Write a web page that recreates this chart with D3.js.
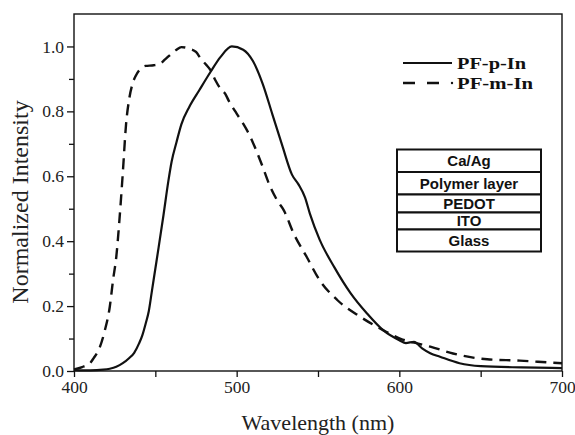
<!DOCTYPE html>
<html>
<head>
<meta charset="utf-8">
<script src="https://cdn.jsdelivr.net/npm/d3@7"></script>
<style>
  html, body { margin: 0; padding: 0; background: #fff; }
  svg { display: block; }
</style>
</head>
<body>
<svg id="chart" width="575" height="435"></svg>
<script>
// ---- data ----
const pWavelength = [400,410,418,422,426,430,434,437,440,442,444,446,448,450,452,455,458,460,463,466,471,477,484,490,497,504,510,516,522,528,534,538,542,545,551,560,570,580,590,600,604,609,614,619,625,637,650,675,700];
const pIntensity  = [0.003,0.002,0.004,0.007,0.013,0.024,0.04,0.056,0.085,0.11,0.145,0.185,0.25,0.315,0.38,0.48,0.585,0.645,0.705,0.76,0.815,0.865,0.922,0.967,1.0,0.99,0.955,0.885,0.79,0.695,0.605,0.575,0.535,0.485,0.405,0.32,0.24,0.178,0.126,0.095,0.086,0.09,0.07,0.055,0.044,0.024,0.015,0.011,0.009];

const mWavelength = [400,405,410,412,416,419,422,424,426,428,430,432,434,436,438,440,444,449,453,456,460,463,466,471,475,478,481,484,487,490,493,495,500,504,508,512,516,520,525,529,535,543,551,562,576,590,602,611,619,633,654,674,693,700];
const mIntensity  = [0.005,0.012,0.025,0.039,0.075,0.126,0.198,0.28,0.352,0.47,0.61,0.76,0.84,0.885,0.91,0.926,0.94,0.942,0.947,0.96,0.978,0.99,0.998,0.993,0.983,0.962,0.945,0.926,0.895,0.87,0.854,0.834,0.793,0.762,0.726,0.68,0.629,0.575,0.525,0.495,0.424,0.352,0.28,0.218,0.167,0.126,0.097,0.085,0.075,0.054,0.036,0.032,0.026,0.024];

const xMajorTicks = [400, 500, 600, 700];
const xMinorTicks = [450, 550, 650];
const yMajorTicks = [0.0, 0.2, 0.4, 0.6, 0.8, 1.0];
const yMinorTicks = [0.1, 0.3, 0.5, 0.7, 0.9];

const seriesNames = ["PF-p-In", "PF-m-In"];
const layerNames = ["Ca/Ag", "Polymer layer", "PEDOT", "ITO", "Glass"];
const xTitle = "Wavelength (nm)";
const yTitle = "Normalized Intensity";

// ---- layout ----
const svg = d3.select("#chart");
const pL = 74, pT = 14, pR = 562, pB = 371;
const serif = "'Liberation Serif','Times New Roman',serif";
const sans = "'Liberation Sans',Arial,sans-serif";

const x = d3.scaleLinear().domain([400, 700]).range([pL, pR]);
const y = d3.scaleLinear().domain([0, 1.1]).range([pB, pT]);

// axes
svg.append("g").attr("transform", `translate(0,${pB})`)
  .call(d3.axisBottom(x).tickValues(xMajorTicks).tickFormat(d3.format("d")).tickSize(6).tickPadding(4));
svg.append("g").attr("transform", `translate(0,${pB})`)
  .call(d3.axisBottom(x).tickValues(xMinorTicks).tickFormat("").tickSize(6));
svg.append("g").attr("transform", `translate(${pL},0)`)
  .call(d3.axisLeft(y).tickValues(yMajorTicks).tickFormat(d3.format(".1f")).tickSize(7).tickPadding(3));
svg.append("g").attr("transform", `translate(${pL},0)`)
  .call(d3.axisLeft(y).tickValues(yMinorTicks).tickFormat("").tickSize(5));

svg.selectAll(".domain").remove();
svg.selectAll(".tick line").attr("stroke", "#111").attr("stroke-width", 1.3);
svg.selectAll(".tick text").attr("font-family", serif).attr("font-size", 17.5).attr("fill", "#222");

// frame
svg.append("rect").attr("x", pL).attr("y", pT).attr("width", pR - pL).attr("height", pB - pT)
  .attr("fill", "none").attr("stroke", "#111").attr("stroke-width", 1.4);

// titles
svg.append("text").attr("x", (pL + pR) / 2).attr("y", 430).attr("text-anchor", "middle")
  .attr("font-family", serif).attr("font-size", 22).attr("fill", "#222").text(xTitle);
svg.append("text").attr("transform", `translate(28,202) rotate(-90)`).attr("text-anchor", "middle")
  .attr("font-family", serif).attr("font-size", 24).attr("fill", "#222").text(yTitle);

// curves
const line = d3.line().x(d => x(d[0])).y(d => y(d[1])).curve(d3.curveMonotoneX);
const pData = pWavelength.map((w, i) => [w, pIntensity[i]]);
const mData = mWavelength.map((w, i) => [w, mIntensity[i]]);

svg.append("path").datum(mData).attr("d", line).attr("fill", "none")
  .attr("stroke", "#111").attr("stroke-width", 2.4).attr("stroke-dasharray", "11,7");
svg.append("path").datum(pData).attr("d", line).attr("fill", "none")
  .attr("stroke", "#111").attr("stroke-width", 2.2);

// legend
const lg = svg.append("g");
lg.append("line").attr("x1", 403).attr("x2", 452).attr("y1", 63).attr("y2", 63)
  .attr("stroke", "#111").attr("stroke-width", 2.2);
lg.append("line").attr("x1", 403).attr("x2", 440).attr("y1", 83).attr("y2", 83)
  .attr("stroke", "#111").attr("stroke-width", 2.4).attr("stroke-dasharray", "12,12");
lg.append("circle").attr("cx", 452).attr("cy", 83).attr("r", 1.2).attr("fill", "#111");
lg.append("text").attr("x", 457).attr("y", 69).attr("font-family", serif).attr("font-weight", "bold")
  .attr("font-size", 17.5).attr("fill", "#111")
  .attr("textLength", 69).attr("lengthAdjust", "spacingAndGlyphs").text(seriesNames[0]);
lg.append("text").attr("x", 457).attr("y", 89).attr("font-family", serif).attr("font-weight", "bold")
  .attr("font-size", 17.5).attr("fill", "#111")
  .attr("textLength", 76).attr("lengthAdjust", "spacingAndGlyphs").text(seriesNames[1]);

// device layer stack
const boxX = 397, boxW = 144;
const rowEdges = [149.5, 172, 194.5, 212.5, 229.5, 251.5];
const stack = svg.append("g");
layerNames.forEach((name, i) => {
  stack.append("rect").attr("x", boxX).attr("y", rowEdges[i]).attr("width", boxW)
    .attr("height", rowEdges[i + 1] - rowEdges[i]).attr("fill", "#fff")
    .attr("stroke", "#111").attr("stroke-width", 2);
  stack.append("text").attr("x", boxX + boxW / 2).attr("y", (rowEdges[i] + rowEdges[i + 1]) / 2)
    .attr("dy", "0.36em").attr("text-anchor", "middle").attr("font-family", sans)
    .attr("font-weight", "bold").attr("font-size", 15).attr("fill", "#111").text(name);
});
</script>
</body>
</html>
